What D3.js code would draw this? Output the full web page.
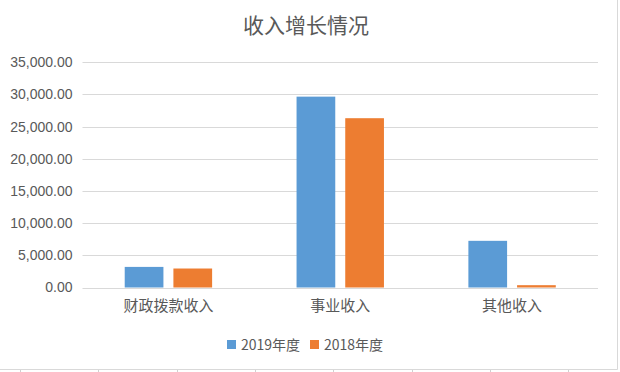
<!DOCTYPE html>
<html>
<head>
<meta charset="utf-8">
<script src="https://cdn.jsdelivr.net/npm/d3@7"></script>
<style>
  body { margin: 0; background: #fff; }
  svg { display: block; }
  .tick text { font-family: "Liberation Sans", Arial, sans-serif; }
</style>
</head>
<body>
<svg width="620" height="372"></svg>
<script>
// chart data
var categories = ["财政拨款收入", "事业收入", "其他收入"];
var seriesNames = ["2019年度", "2018年度"];
var values2019 = [3200, 29650, 7250];
var values2018 = [2950, 26300, 360];
var yTicks = [0, 5000, 10000, 15000, 20000, 25000, 30000, 35000];
var colors = ["#5b9bd5", "#ed7d31"];

var svg = d3.select("svg");

// plot area
var plot = { left: 82.5, right: 598, top: 62.2, bottom: 287.5 };

var x0 = d3.scaleBand()
  .domain(categories)
  .range([plot.left, plot.right])
  .padding(0);

var groupWidth = 87.4;
var x1 = d3.scaleBand()
  .domain(seriesNames)
  .range([x0.bandwidth() / 2 - groupWidth / 2, x0.bandwidth() / 2 + groupWidth / 2])
  .paddingInner(0.205)
  .paddingOuter(0);

var y = d3.scaleLinear()
  .domain([0, 35000])
  .range([plot.bottom, plot.top]);

var fmt = d3.format(",.2f");

// gridlines
svg.append("g")
  .selectAll("line")
  .data(yTicks)
  .enter()
  .append("line")
    .attr("x1", plot.left)
    .attr("x2", plot.right)
    .attr("y1", (d) => Math.round(y(d)) + 0.5)
    .attr("y2", (d) => Math.round(y(d)) + 0.5)
    .attr("stroke", "#d9d9d9")
    .attr("stroke-width", 1);

// y axis labels
var yAxis = d3.axisLeft(y)
  .tickValues(yTicks)
  .tickFormat(fmt)
  .tickSize(0)
  .tickPadding(10);

svg.append("g")
  .attr("transform", "translate(" + plot.left + ",0)")
  .call(yAxis)
  .call((g) => g.select(".domain").remove())
  .selectAll("text")
    .attr("fill", "#595959")
    .style("font-size", "14px");

// bars
var rows = categories.map((c, i) => ({ cat: c, vals: [values2019[i], values2018[i]] }));

var groups = svg.append("g")
  .selectAll("g")
  .data(rows)
  .enter()
  .append("g")
    .attr("transform", (d) => "translate(" + x0(d.cat) + ",0)");

groups.selectAll("rect")
  .data((d) => d.vals.map((v, j) => ({ name: seriesNames[j], value: v, idx: j })))
  .enter()
  .append("rect")
    .attr("x", (d) => x1(d.name))
    .attr("y", (d) => y(d.value))
    .attr("width", x1.bandwidth())
    .attr("height", (d) => y(0) - y(d.value))
    .attr("fill", (d) => colors[d.idx]);

// x axis labels
var xAxis = d3.axisBottom(x0).tickSize(0).tickPadding(13);
svg.append("g")
  .attr("transform", "translate(0," + plot.bottom + ")")
  .call(xAxis)
  .call((g) => g.select(".domain").remove())
  .selectAll("text")
    .attr("fill", "#595959")
    .style("font-family", "'Noto Sans CJK SC', sans-serif")
    .style("font-size", "15px");

// title
svg.append("text")
  .attr("x", 306)
  .attr("y", 33)
  .attr("text-anchor", "middle")
  .attr("fill", "#595959")
  .style("font-family", "'Noto Sans CJK SC', sans-serif")
  .style("font-size", "21px")
  .text("收入增长情况");

// legend
var legendX = [227, 310];
var legend = svg.append("g")
  .selectAll("g")
  .data(seriesNames)
  .enter()
  .append("g")
    .attr("transform", (d, i) => "translate(" + legendX[i] + ",340)");

legend.append("rect")
  .attr("width", 9)
  .attr("height", 9)
  .attr("fill", (d, i) => colors[i]);

legend.append("text")
  .attr("x", 14)
  .attr("y", 10)
  .attr("fill", "#595959")
  .style("font-family", "'Noto Sans CJK SC', sans-serif")
  .style("font-size", "14px")
  .text((d) => d);

// chart border + spreadsheet cell lines
svg.append("line")
  .attr("x1", 0).attr("x2", 617.5)
  .attr("y1", 369.5).attr("y2", 369.5)
  .attr("stroke", "#d9d9d9");
svg.append("line")
  .attr("x1", 617.5).attr("x2", 617.5)
  .attr("y1", 0).attr("y2", 369.5)
  .attr("stroke", "#d9d9d9");

var cellLines = [20, 98, 177, 255, 333, 412, 490, 568];
svg.append("g")
  .selectAll("line")
  .data(cellLines)
  .enter()
  .append("line")
    .attr("x1", (d) => d + 0.5)
    .attr("x2", (d) => d + 0.5)
    .attr("y1", 370)
    .attr("y2", 372)
    .attr("stroke", "#d0d0d0");
</script>
</body>
</html>
